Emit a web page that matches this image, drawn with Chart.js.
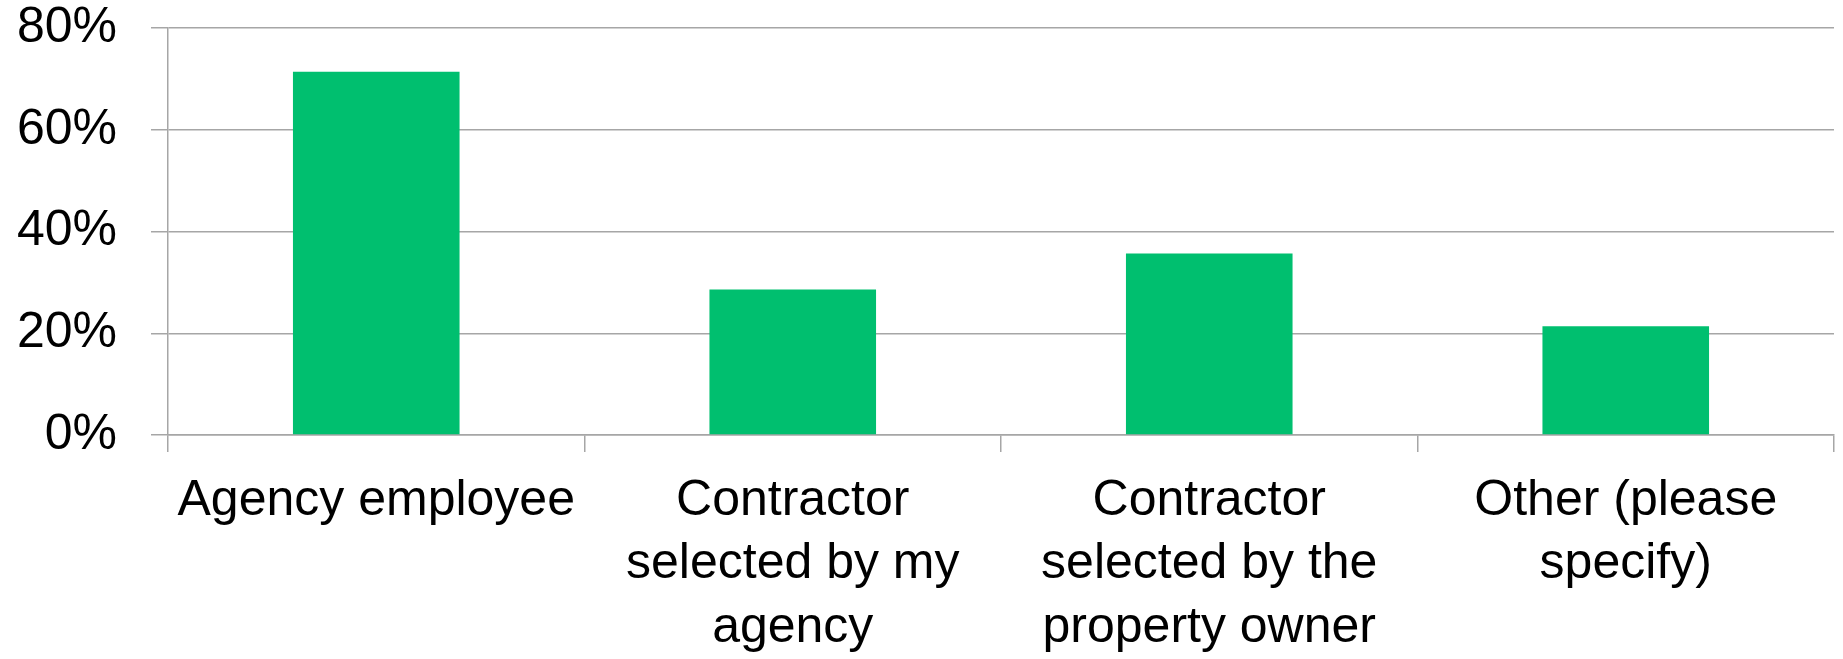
<!DOCTYPE html>
<html>
<head>
<meta charset="utf-8">
<script src="https://cdn.jsdelivr.net/npm/chart.js@4.4.1/dist/chart.umd.min.js"></script>
<style>
  html, body { margin: 0; padding: 0; background: #fff; }
  #wrap { width: 1843px; height: 659px; }
</style>
</head>
<body>
<div id="wrap"><canvas id="chart"></canvas></div>
<script>
// who did the work (share of respondents)
var categories = [
    ["Agency employee"],
    ["Contractor", "selected by my", "agency"],
    ["Contractor", "selected by the", "property owner"],
    ["Other (please", "specify)"]
]
var shares = [71.4, 28.6, 35.7, 21.4]
var yTicks = [0, 20, 40, 60, 80]

var gridColor = "#a6a6a6"

var ctx = document.getElementById("chart").getContext("2d")
var chart = new Chart(ctx, {
    type: "bar",
    data: {
        labels: categories,
        datasets: [{
            data: shares,
            backgroundColor: "#00bf6f",
            borderWidth: 0,
            barPercentage: 0.4,
            categoryPercentage: 1
        }]
    },
    options: {
        responsive: true,
        maintainAspectRatio: false,
        animation: false,
        layout: { padding: { top: 28, right: 9, left: 0, bottom: 0 } },
        plugins: { legend: { display: false }, tooltip: { enabled: false } },
        scales: {
            x: {
                offset: true,
                grid: {
                    offset: true,
                    drawOnChartArea: false,
                    tickLength: 17,
                    color: gridColor,
                    lineWidth: 1.5
                },
                border: { color: gridColor, width: 1.5 },
                ticks: {
                    color: "#000",
                    padding: 17,
                    maxRotation: 0,
                    autoSkip: false,
                    font: { family: "'Liberation Sans', Arial, sans-serif", size: 50, lineHeight: 1.27 }
                },
                afterFit: function(scale) {
                    scale.height = 224
                    scale.paddingLeft = 0
                    scale.paddingRight = 0
                }
            },
            y: {
                min: 0,
                max: 80,
                afterBuildTicks: function(scale) {
                    scale.ticks = yTicks.map(function(v) { return { value: v } })
                },
                grid: { tickLength: 17, color: gridColor, lineWidth: 1.5 },
                border: { color: gridColor, width: 1.5 },
                ticks: {
                    color: "#000",
                    padding: 34,
                    font: { family: "'Liberation Sans', Arial, sans-serif", size: 50 },
                    callback: function(v) { return v + "%" }
                },
                afterFit: function(scale) {
                    scale.width = 168
                    scale.paddingTop = 0
                    scale.paddingBottom = 0
                }
            }
        }
    }
})
</script>
</body>
</html>
